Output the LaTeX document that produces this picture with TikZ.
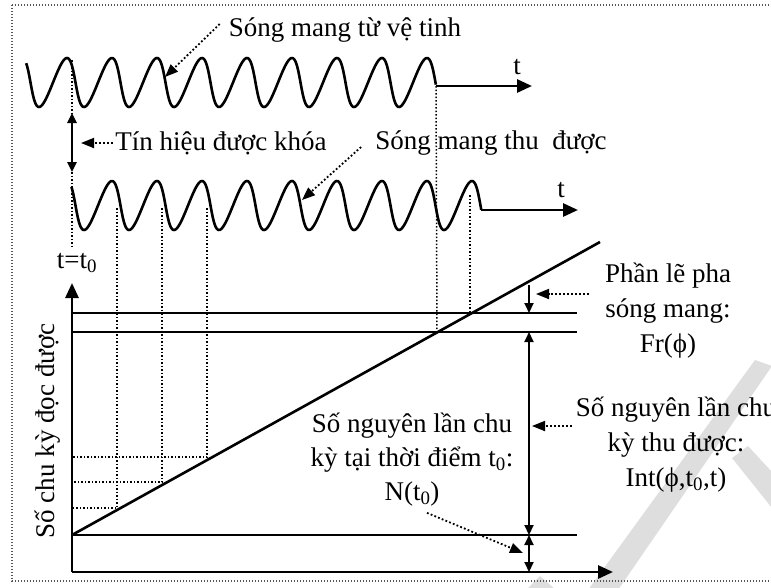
\documentclass[tikz,border=0pt]{standalone}
\usepackage{fontspec}
\setmainfont{Liberation Serif}
\usetikzlibrary{arrows.meta}
\definecolor{ink}{HTML}{000000}
\definecolor{frame}{HTML}{555555}
\definecolor{wmark}{HTML}{DEDEDE}

\begin{document}
\begin{tikzpicture}[
  x=1pt, y=-1pt,
  font=\fontsize{27}{35}\selectfont,
  wave/.style={line width=2.6pt, line join=round, draw=ink},
  axis/.style={line width=2.8pt, draw=ink, -{Triangle[length=15pt,width=13pt]}},
  level/.style={line width=1.3pt, draw=ink},
  slope/.style={line width=2.6pt, draw=ink},
  guide/.style={line width=1.5pt, draw=ink, dash pattern=on 1.5pt off 2pt},
  border/.style={line width=1.2pt, draw=frame, dash pattern=on 1.2pt off 1.8pt},
  measure/.style={line width=2pt, draw=ink,
    {Triangle[length=10pt,width=9pt]}-{Triangle[length=10pt,width=9pt]}},
  pointer/.style={line width=1.8pt, draw=ink, dash pattern=on 1.8pt off 2.2pt,
    -{Triangle[length=13pt,width=10pt]}},
  label/.style={align=center, inner sep=0pt, text=ink}
]
\useasboundingbox (0,0) rectangle (771,587);

% watermark
\fill[wmark] (755,360) -- (772,366) -- (618,590) -- (588,590) -- cycle;
\fill[wmark] (732,458) -- (748,446) -- (772,472) -- (772,508) -- cycle;
\fill[wmark] (526,590) -- (540,576) -- (556,590) -- cycle;

% frame
\draw[border] (12,5) rectangle (800,581);

% carrier from the satellite
\draw[wave] plot[domain=-322:2975, samples=400, variable=\u]
  ({64.25+\u/360*45+2.75*cos(\u)}, {82.5-24.5*cos(\u)});
\coordinate (w1end) at (436,86);
\coordinate (t1tip) at (532,86);
\draw[axis] (w1end) -- (t1tip);
\node[label] (t1) at (517,67) {t};

% received carrier
\draw[wave] plot[domain=-319:2980, samples=400, variable=\u]
  ({109.25+\u/360*45+2.75*cos(\u)}, {205.5-24.5*cos(\u)});
\coordinate (w2end) at (481,210);
\coordinate (t2tip) at (578,210);
\draw[axis] (w2end) -- (t2tip);
\node[label] (t2) at (561,190) {t};

% lock offset
\coordinate (lockA) at (72,113);
\coordinate (lockB) at (72,172);
\draw[guide] (72,60) -- (72,247);
\draw[measure, line width=2.4pt] (lockA) -- (lockB);

% graph
\coordinate (origin) at (72,572);
\coordinate (ytip) at (72,283);
\coordinate (xtip) at (613,572);
\node[label] (tzero) at (77,263) {t=t\textsubscript{0}};
\node[label, rotate=90] (ylabel) at (48,431) {Số chu kỳ đọc được};

\coordinate (base) at (72,535);
\coordinate (slopeend) at (600,242);
\draw[level] (72,313) -- (577,313);
\draw[level] (72,332) -- (577,332);
\draw[level] (base) -- (577,535);
\draw[slope] (base) -- (slopeend);

% guides from the received wave
\foreach \gx/\gy in {117/508, 162/482, 207/457}{
  \draw[guide] (\gx,208) -- (\gx,\gy) -- (72,\gy);
}
\draw[guide] (w1end) -- (437,332);
\draw[guide] (470,195) -- (470,313);

\draw[axis] (origin) -- (ytip);
\draw[axis] (origin) -- (xtip);

% measures
\coordinate (frA) at (529,285);
\coordinate (frB) at (529,313);
\coordinate (intA) at (529,332);
\coordinate (intB) at (529,535);
\coordinate (nA) at (529,572);
\draw[line width=2pt, draw=ink, -{Triangle[length=10pt,width=9pt]}] (frA) -- (frB);
\draw[measure] (intA) -- (intB);
\draw[measure] (intB) -- (nA);

% labels
\node[label] (carrier) at (345,30) {Sóng mang từ vệ tinh};
\node[label] (locked) at (221,143) {Tín hiệu được khóa};
\node[label] (received) at (491,143) {Sóng mang thu\ \ được};
\node[label] (frac) at (668,311) {Phần lẽ pha\\sóng mang:\\Fr(ϕ)};
\node[label] (intc) at (676,445) {Số nguyên lần chu\\kỳ thu được:\\Int(ϕ,t\textsubscript{0},t)};
\node[label, font=\fontsize{27}{34}\selectfont] (nt0) at (412,460)
  {Số nguyên lần chu\\kỳ tại thời điểm t\textsubscript{0}:\\N(t\textsubscript{0})};

% pointers
\coordinate (carriertip) at (165,77);
\coordinate (receivedtip) at (302,200);
\coordinate (lockedtip) at (81,143);
\coordinate (fractip) at (536,294);
\coordinate (intctip) at (532,426);
\coordinate (nt0tip) at (523,553);
\draw[pointer] ([shift={(-9,-6)}]carrier.west) -- (carriertip);
\draw[pointer] ([shift={(-2,0)}]locked.west) -- (lockedtip);
\draw[pointer] ([shift={(-14,4)}]received.west) -- (receivedtip);
\draw[pointer] ([shift={(-16,-17)}]frac.west) -- (fractip);
\draw[pointer] ([shift={(-4,-19)}]intc.west) -- (intctip);
\draw[pointer] ([shift={(15,6)}]nt0.south) -- (nt0tip);

\end{tikzpicture}
\end{document}
